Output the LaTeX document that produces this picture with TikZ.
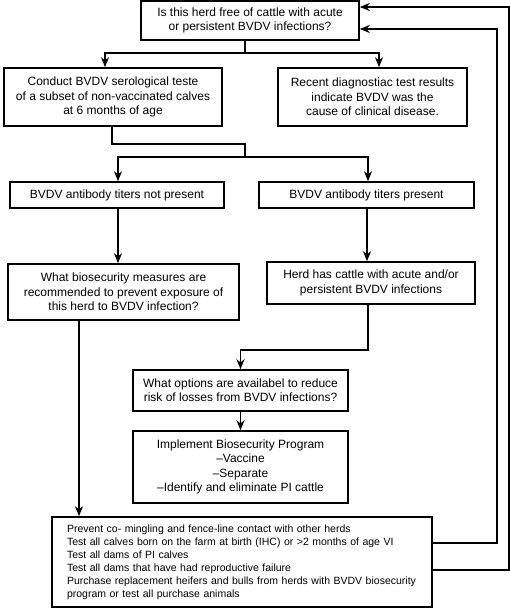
\documentclass[tikz,border=0pt]{standalone}
\usepackage{fontspec}
\setmainfont{Liberation Sans}
\usetikzlibrary{arrows.meta}
\begin{document}
\begin{tikzpicture}[x=1pt,y=-1pt,
  box/.style={draw,line width=1.6pt,inner sep=0pt,align=center,font=\fontsize{12}{14.3}\selectfont},
  arr/.style={line width=1.6pt,-{Stealth[length=10pt,width=8pt]}},
  ln/.style={line width=1.6pt}]
\useasboundingbox (0,0) rectangle (510,608);
\node[box,minimum width=218pt,minimum height=39pt] (top) at (250,20.5) {Is this herd free of cattle with acute\\or persistent BVDV infections?};
\node[box,minimum width=218pt,minimum height=58pt] (conduct) at (113,97) {Conduct BVDV serological teste\\of a subset of non-vaccinated calves\\at 6 months of age};
\node[box,minimum width=189pt,minimum height=58pt] (recent) at (372.5,97) {Recent diagnostiac test results\\indicate BVDV was the\\cause of clinical disease.};
\node[box,minimum width=214pt,minimum height=26pt] (notp) at (117,195) {BVDV antibody titers not present};
\node[box,minimum width=215pt,minimum height=26pt] (pres) at (366.5,195) {BVDV antibody titers present};
\node[box,minimum width=231pt,minimum height=56pt] (bio) at (123.5,292) {What biosecurity measures are\\recommended to prevent exposure of\\this herd to BVDV infection?};
\node[box,minimum width=208pt,minimum height=42pt] (herd) at (371,283) {Herd has cattle with acute and/or\\persistent BVDV infections};
\node[box,minimum width=215pt,minimum height=41pt] (opt) at (240.5,390.5) {What options are availabel to reduce\\risk of losses from BVDV infections?};
\node[box,minimum width=215pt,minimum height=72pt] (impl) at (240.5,467) {Implement Biosecurity Program\\–Vaccine\\–Separate\\–Identify and eliminate PI cattle};
\node[box,align=left,text width=350pt,inner xsep=15pt,minimum height=90pt,font=\fontsize{10.5}{13}\selectfont] (bot) at (242,562) {Prevent co- mingling and fence-line contact with other herds\\Test all calves born on the farm at birth (IHC) or >2 months of age VI\\Test all dams of PI calves\\Test all dams that have had reproductive failure\\Purchase replacement heifers and bulls from herds with BVDV biosecurity\\program or test all purchase animals};
\coordinate (j1) at (245,53);
\coordinate (j2) at (245,157);
\draw[ln] ([xshift=-5pt]top.south) -- (j1);
\draw[arr] (j1) -| ([xshift=-8pt]conduct.north);
\draw[arr] (j1) -| ([xshift=6.5pt]recent.north);
\draw[ln] ([xshift=-1pt]conduct.south) |- (j2 |- 0,144) -- (j2);
\draw[arr] (j2) -| ([xshift=1pt]notp.north);
\draw[arr] (j2) -| ([xshift=1.5pt]pres.north);
\draw[arr] ([xshift=1pt]notp.south) -- ([xshift=1pt]notp.south |- bio.north);
\draw[arr] ([xshift=0.5pt]pres.south) -- ([xshift=0.5pt]pres.south |- herd.north);
\draw[arr] ([xshift=-3pt]herd.south) -- ++(0,45) -| (opt.north);
\draw[arr] (opt.south) -- (impl.north);
\draw[arr] ([xshift=-44.5pt]bio.south) -- ([xshift=-44.5pt]bio.south |- bot.north);
\draw[arr] ([yshift=19pt]bot.east) -- ++(64,0) |- ([yshift=-8.5pt]top.east);
\draw[arr] ([yshift=-8pt]bot.east) -- ++(76,0) |- ([yshift=13.5pt]top.east);
\end{tikzpicture}
\end{document}
